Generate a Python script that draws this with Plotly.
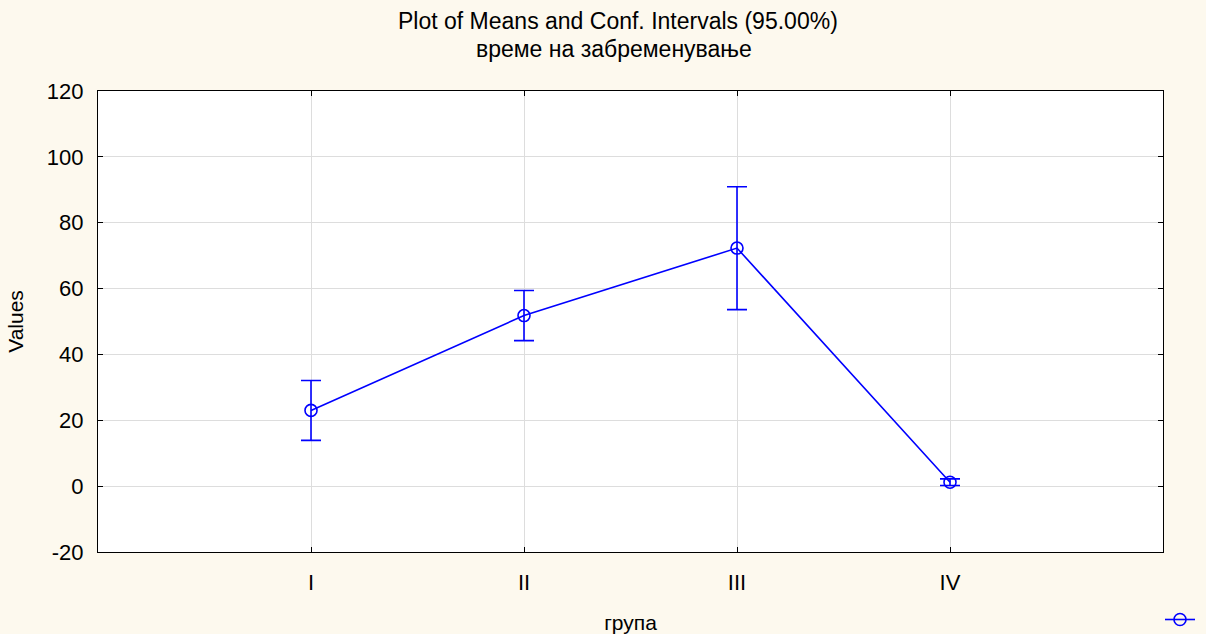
import plotly.graph_objects as go

categories = ["I", "II", "III", "IV"]
means = [23.0, 51.8, 72.3, 1.2]
upper = [32.1, 59.4, 90.9, 2.2]
lower = [13.9, 44.2, 53.6, 0.2]

err_plus = [u - m for u, m in zip(upper, means)]
err_minus = [m - l for m, l in zip(means, lower)]

y_ticks = [-20, 0, 20, 40, 60, 80, 100, 120]
y_ticktext = ["-20", "0", "20", "40", "60", "80", "100", "120"]

title_lines = ["Plot of Means and Conf. Intervals (95.00%)", "време на забременување"]

FONT = "Liberation Sans, Arial, sans-serif"

fig = go.Figure()
fig.add_trace(go.Scatter(
    x=list(range(len(categories))),
    y=means,
    mode="lines+markers",
    name=" ",
    line=dict(color="#0000FF", width=1.6),
    marker=dict(symbol="circle-open", size=12, color="#0000FF", line=dict(width=1.6)),
    error_y=dict(type="data", symmetric=False, array=err_plus, arrayminus=err_minus,
                 color="#0000FF", thickness=1.6, width=10),
    showlegend=True,
))

fig.update_layout(
    width=1206, height=634,
    paper_bgcolor="#FDF9EE",
    plot_bgcolor="#FFFFFF",
    margin=dict(l=98, r=43, t=91, b=82, autoexpand=False),
    font=dict(family=FONT, size=21, color="#000000"),
    legend=dict(xref="container", yref="container", x=1.0, y=0.0,
                xanchor="right", yanchor="bottom", bgcolor="rgba(0,0,0,0)",
                font=dict(size=1), itemwidth=30),
    annotations=[
        dict(text=title_lines[0], xref="paper", yref="paper", x=(618 - 98) / 1065,
             y=1 + (91 - 21) / 461,
             xanchor="center", yanchor="middle", showarrow=False, font=dict(size=23)),
        dict(text=title_lines[1], xref="paper", yref="paper", x=(614 - 98) / 1065,
             y=1 + (91 - 49) / 461,
             xanchor="center", yanchor="middle", showarrow=False, font=dict(size=23)),
    ],
    xaxis=dict(
        tickmode="array", tickvals=list(range(len(categories))), ticktext=categories,
        range=[-1, 4], showgrid=True, gridcolor="#DDDDDD", gridwidth=1,
        showline=True, linecolor="#000000", linewidth=1.2, mirror="ticks",
        ticks="inside", ticklen=5, tickcolor="#000000", tickfont=dict(size=22),
        ticklabelstandoff=10,
        title=dict(text="група", standoff=21, font=dict(size=21)), zeroline=False,
    ),
    yaxis=dict(
        tickmode="array", tickvals=y_ticks, ticktext=y_ticktext, range=[-20, 120],
        showgrid=True, gridcolor="#DDDDDD", gridwidth=1,
        showline=True, linecolor="#000000", linewidth=1.2, mirror="ticks",
        ticks="inside", ticklen=5, tickcolor="#000000", tickfont=dict(size=22),
        ticklabelstandoff=9,
        title=dict(text="Values", standoff=17, font=dict(size=21)), zeroline=False,
    ),
)

fig.write_html("out.html")
